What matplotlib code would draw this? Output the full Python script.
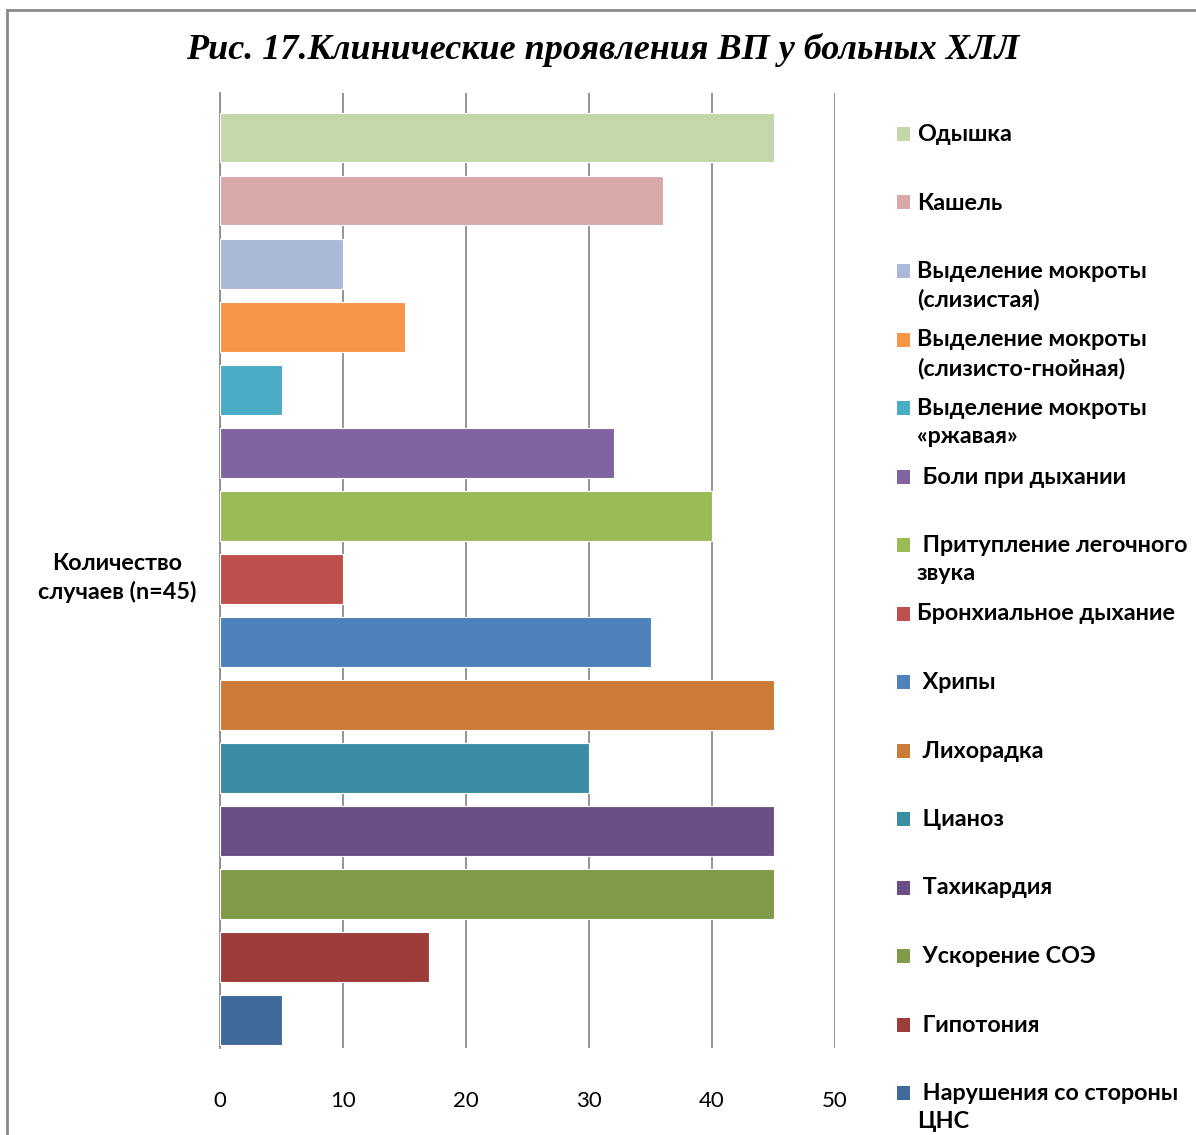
import matplotlib.pyplot as plt
from matplotlib.patches import Rectangle
from matplotlib.lines import Line2D

# Clinical signs of pneumonia in patients with chronic lung disease
labels = ['Одышка', 'Кашель', 'Выделение мокроты\n(слизистая)',
          'Выделение мокроты\n(слизисто-гнойная)', 'Выделение мокроты\n«ржавая»',
          ' Боли при дыхании', ' Притупление легочного\nзвука', 'Бронхиальное дыхание',
          ' Хрипы', ' Лихорадка', ' Цианоз', ' Тахикардия', ' Ускорение СОЭ',
          ' Гипотония', ' Нарушения со стороны\nЦНС']
values = [45, 36, 10, 15, 5, 32, 40, 10, 35, 45, 30, 45, 45, 17, 5]
colors = ['#C4D7AA', '#D9A8A8', '#A9B9D7', '#F79646', '#4BACC6', '#8064A2',
          '#9BBB59', '#C0504D', '#4F81BD', '#CC7A38', '#3B8DA3', '#694F87',
          '#7F9A48', '#9D3D3A', '#40699C']
xticks = [0, 10, 20, 30, 40, 50]

W, H = 1196, 1135
fig = plt.figure(figsize=(W / 100, H / 100), dpi=100)
ax = fig.add_axes([220 / W, 1 - 1048 / H, 615 / W, (1048 - 93) / H])

pos = list(range(len(values)))
ax.barh(pos, values, height=0.79, color=colors, edgecolor='white', linewidth=0.8, zorder=3)
ax.set_xlim(0, 50)
ax.set_ylim(14.44, -0.706)

ax.set_xticks(xticks)
ax.set_xticklabels([str(t) for t in xticks], family='Lato', fontsize=16)
ax.tick_params(axis='x', length=0, pad=31)
ax.set_yticks([])
ax.grid(axis='x', color='#8c8c8c', linewidth=1.3, zorder=0)
for s in ['top', 'right', 'bottom']:
    ax.spines[s].set_visible(False)
ax.spines['left'].set_color('#8c8c8c')
ax.spines['left'].set_linewidth(1.3)

fig.text(117 / W, 1 - 578 / H, 'Количество\nслучаев (n=45)', ha='center', va='center',
         family='Lato', fontweight='bold', fontsize=16.8, linespacing=1.4)

fig.text(603 / W, 1 - 50 / H, 'Рис. 17.Клинические проявления ВП у больных ХЛЛ',
         ha='center', va='center', family='Liberation Serif', fontweight='bold',
         fontstyle='italic', fontsize=26)

# legend, one slot per category
for i, (lab, c) in enumerate(zip(labels, colors)):
    y = 134 + 68.5 * i
    fig.patches.append(Rectangle((897 / W, 1 - (y + 7) / H), 13 / W, 14 / H,
                                 transform=fig.transFigure, facecolor=c, edgecolor='none'))
    fig.text(917 / W, 1 - (y - 10) / H, lab, ha='left', va='top', family='Lato',
             fontweight='bold', fontsize=16.8, linespacing=1.4)

# outer frame
fig.add_artist(Line2D([7 / W, 7 / W], [0, 1 - 10 / H], color='#8a8a8a', linewidth=2,
                      transform=fig.transFigure))
fig.add_artist(Line2D([7 / W, 1], [1 - 10 / H, 1 - 10 / H], color='#8a8a8a', linewidth=2,
                      transform=fig.transFigure))

fig.savefig('out.png', dpi=100)
